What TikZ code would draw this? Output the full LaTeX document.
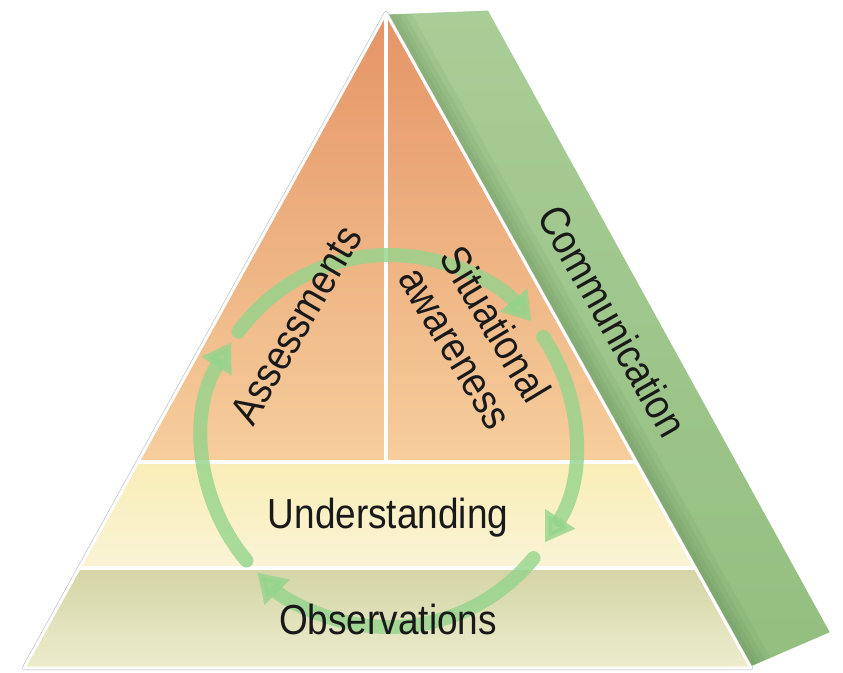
\documentclass[tikz,border=0pt]{standalone}
\usepackage{fontspec}
\setmainfont{Liberation Sans}[FakeStretch=0.88]
\usetikzlibrary{arrows.meta,calc}
\definecolor{orTop}{RGB}{229,148,102}
\definecolor{orBot}{RGB}{246,206,156}
\definecolor{unTop}{RGB}{249,237,182}
\definecolor{unBot}{RGB}{250,244,214}
\definecolor{obTop}{RGB}{212,212,166}
\definecolor{obBot}{RGB}{237,237,206}
\definecolor{grnTop}{RGB}{168,205,150}
\definecolor{grnBot}{RGB}{148,190,128}
\definecolor{grnD}{RGB}{80,125,70}
\definecolor{cyc}{RGB}{148,212,140}
\tikzset{
  lbl/.style={font=\fontsize{42}{44}\selectfont, text=black!90, inner sep=0pt, align=center},
  cycarc/.style={draw=cyc, line width=14pt, opacity=0.8, line cap=round,
    -{Triangle[width=34pt,length=28pt]}},
  whiteline/.style={draw=white, line width=4pt},
}
\begin{document}
\begin{tikzpicture}[x=1pt,y=1pt]
\useasboundingbox (0,0) rectangle (843,-672);
% key points
\coordinate (A) at (386,-13);
\coordinate (BL) at (24,-668);
\coordinate (BR) at (751,-668);
\coordinate (G2) at (489,-9);
\coordinate (G3) at (832,-633);
\coordinate (L1) at ($(A)!0.6855!(BL)$);
\coordinate (R1) at ($(A)!0.6855!(BR)$);
\coordinate (L2) at ($(A)!0.8473!(BL)$);
\coordinate (R2) at ($(A)!0.8473!(BR)$);
\coordinate (M1) at (386,-462);
\coordinate (C) at (389,-441);
% shadow of green strip
\foreach \k in {2,4,...,18}{
  \fill[black, opacity=0.025, shift={(\k*0.9,-\k*0.45)}] (A) -- (G2) -- (G3) -- (BR) -- cycle;
}
% green strip
\shade[top color=grnTop, bottom color=grnBot] (A) -- (G2) -- (G3) -- (BR) -- cycle;
\begin{scope}
  \clip (A) -- (G2) -- (G3) -- (BR) -- cycle;
  \foreach \w in {44,32,22,14}{
    \draw[grnD, opacity=0.09, line width=\w pt] (A) -- (BR);
  }
\end{scope}
\draw[white, line width=3pt, line join=round] (A) -- (G2) -- (G3) -- (BR) -- cycle;
% front triangle
\draw[black!30, line width=4pt, line join=round] (A) -- (BL) -- (BR) -- cycle;
\shade[top color=orTop, bottom color=orBot] (A) -- (L1) -- (R1) -- cycle;
\shade[top color=unTop, bottom color=unBot] (L1) -- (L2) -- (R2) -- (R1) -- cycle;
\shade[top color=obTop, bottom color=obBot] (L2) -- (BL) -- (BR) -- (R2) -- cycle;
\draw[whiteline] (L1) -- (R1);
\draw[whiteline] (L2) -- (R2);
\draw[whiteline] (A) -- (M1);
\draw[white, line width=3pt, line join=round] (A) -- (BL) -- (BR) -- cycle;
% cycle arrows
\draw[cycarc] ([shift={(-39:186)}]C) arc[start angle=-39, end angle=-135, radius=186];
\draw[cycarc] ([shift={(-140:186)}]C) arc[start angle=-140, end angle=-212, radius=186];
\draw[cycarc] ([shift={(144:186)}]C) arc[start angle=144, end angle=40, radius=186];
\draw[cycarc] ([shift={(34:186)}]C) arc[start angle=34, end angle=-33, radius=186];
% labels
\node[lbl, rotate=60] (assess) at (296,-325) {Assessments};
\node[lbl, rotate=-59, font=\fontsize{42}{46}\selectfont] (situ) at (476,-336) {Situational\\awareness};
\node[lbl, rotate=-60.5] (comm) at (613,-321) {Communication};
\node[lbl, anchor=base] (under) at (388,-528) {Understanding};
\node[lbl, anchor=base] (obs) at (388,-634) {Observations};
\end{tikzpicture}
\end{document}
